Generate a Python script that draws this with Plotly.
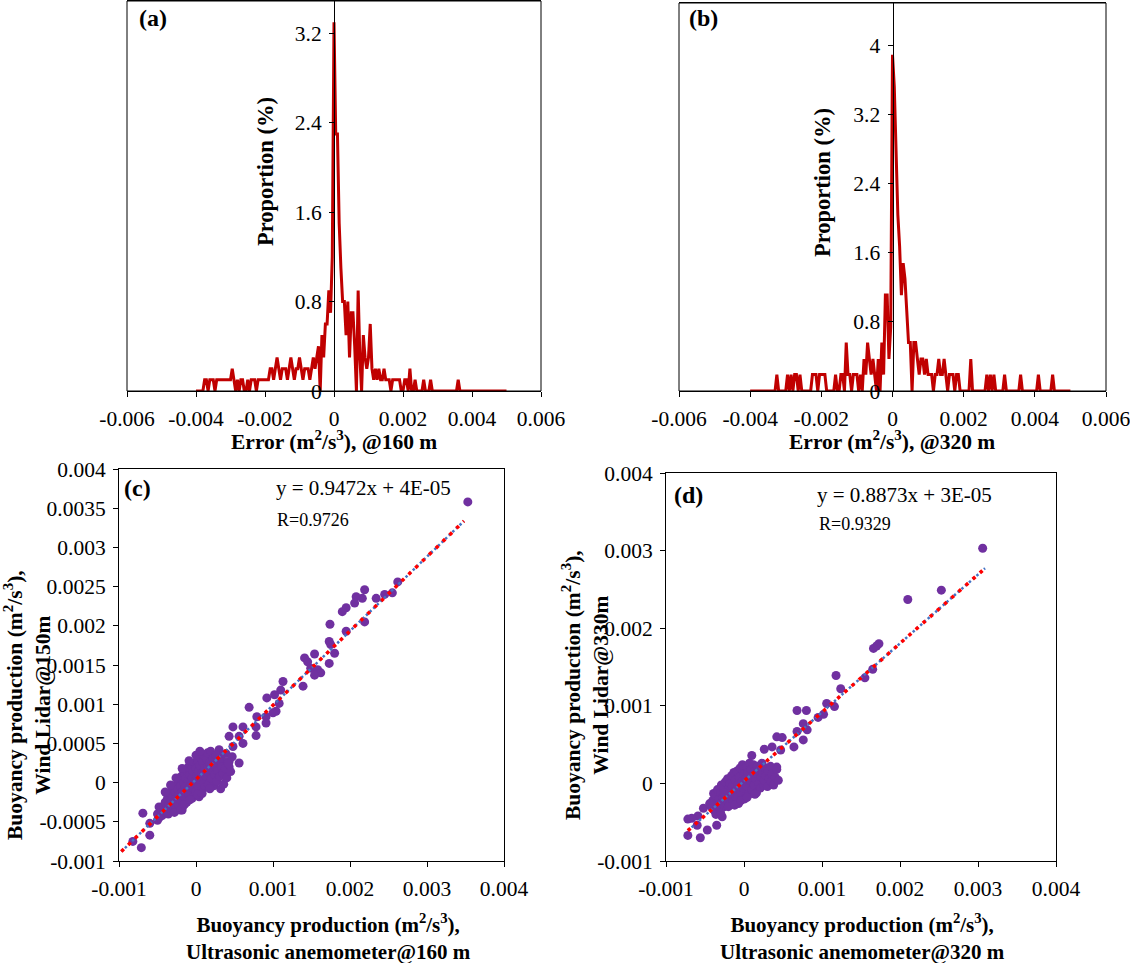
import plotly.graph_objects as go

# ---------------- data ----------------
# error bins of the histograms (bin centres)
BIN_START = -0.004
BIN_WIDTH = 0.00005
N_BINS = 181
err_bins = [round(BIN_START + BIN_WIDTH * i, 6) for i in range(N_BINS)]

# proportion (%) per bin, @160 m
prop_160 = [
    0, 0, 0, 0, 0,
    0.1, 0.1, 0, 0.1, 0.1,
    0.1, 0, 0.1, 0.1, 0.1,
    0.1, 0.1, 0.1, 0.1, 0.1,
    0.1, 0.2, 0.1, 0, 0.1,
    0, 0.1, 0.1, 0, 0,
    0.1, 0, 0.1, 0.1, 0.1,
    0, 0.1, 0.1, 0.1, 0.1,
    0.1, 0.1, 0.1, 0.2, 0.2,
    0.1, 0.2, 0.3, 0.2, 0.1,
    0.2, 0.2, 0.2, 0.1, 0.2,
    0.3, 0.2, 0.1, 0.2, 0.2,
    0.3, 0.2, 0.1, 0.2, 0.2,
    0.2, 0.1, 0.2, 0.3, 0.2,
    0.3, 0.4, 0, 0.5, 0.3,
    0.6, 0.6, 0.9, 0.7, 1.2,
    3.3, 2.3, 2.3, 1.5, 1.1,
    0.8, 0.8, 0.5, 0.8, 0.3,
    0.7, 0.7, 0.4, 0, 0.9,
    0.3, 0, 0.5, 0.3, 0.2,
    0.3, 0.6, 0.2, 0.1, 0.2,
    0.1, 0.2, 0.1, 0.1, 0.2,
    0.1, 0.1, 0.1, 0, 0.1,
    0.1, 0.1, 0.1, 0.1, 0,
    0, 0.1, 0.1, 0, 0.2,
    0, 0, 0.1, 0, 0,
    0, 0, 0.1, 0, 0,
    0, 0.1, 0, 0, 0,
    0, 0, 0, 0, 0,
    0, 0, 0, 0, 0,
    0, 0, 0.1, 0, 0,
    0, 0, 0, 0, 0,
    0, 0, 0, 0, 0,
    0, 0, 0, 0, 0,
    0, 0, 0, 0, 0,
    0, 0, 0, 0, 0,
    0,
]

# proportion (%) per bin, @320 m
prop_320 = [
    0, 0, 0, 0, 0,
    0, 0, 0, 0, 0,
    0, 0, 0, 0, 0,
    0.19, 0, 0, 0, 0,
    0, 0.19, 0, 0.19, 0,
    0.19, 0.19, 0, 0.19, 0,
    0, 0, 0, 0, 0,
    0.19, 0.19, 0.19, 0, 0.19,
    0.19, 0.19, 0.19, 0, 0,
    0, 0, 0, 0.19, 0,
    0, 0.19, 0.19, 0, 0.56,
    0.19, 0.19, 0, 0.19, 0.19,
    0.19, 0, 0.19, 0, 0.37,
    0.19, 0.56, 0.37, 0.19, 0.37,
    0.19, 0, 0.37, 0, 0.56,
    0.19, 1.11, 1.11, 0.37, 0.74,
    3.89, 3.52, 2.78, 2.04, 1.67,
    1.11, 1.48, 1.3, 0.93, 0.56,
    0.56, 0, 0.56, 0.56, 0.37,
    0.19, 0.37, 0.37, 0.19, 0.37,
    0.19, 0.19, 0.19, 0, 0.19,
    0.19, 0.37, 0.19, 0.19, 0.37,
    0.19, 0, 0.19, 0.19, 0.19,
    0, 0.19, 0.19, 0, 0,
    0, 0, 0, 0, 0.37,
    0, 0, 0, 0, 0,
    0, 0, 0, 0.19, 0,
    0.19, 0, 0.19, 0, 0,
    0, 0, 0, 0.19, 0,
    0, 0, 0, 0, 0,
    0, 0, 0.19, 0, 0,
    0, 0, 0, 0, 0,
    0, 0, 0.19, 0, 0,
    0, 0, 0, 0, 0,
    0.19, 0, 0, 0, 0,
    0, 0, 0, 0, 0,
    0,
]

# scatter data, in units of 1e-5 m2/s3
UNIT = 1e-5
sonic_160 = [
    353, 262, 255, 245, 234, 219, 216, 208, 206, 195, 190, 219, 195, 174, 173, 175, 180, 173,
    154, 141, 145, 149, 158, 162, 154, 139, 113, 110, 102, 92, 108, 104, 100, 69, 91, 91, 79,
    78, 78, 61, 48, 43, 56, 61, 48, 39, 43, 32, 26, 17, -69, -60, -60, -71, -82, -48, -50,
    -32, -18, 35, 47, 56, 43, 30,
    -50, -48, -45, -44, -42, -40, -40, -38, -37, -36, -35, -34, -33, -32, -31, -30, -30, -29,
    -28, -27, -26, -25, -25, -24, -23, -22, -21, -20, -20, -19, -18, -17, -16, -15, -15, -14,
    -13, -12, -12, -11, -10, -10, -9, -8, -7, -6, -5, -5, -4, -3, -2, -1, 0, 0, 1, 2, 3, 3,
    4, 5, 5, 6, 7, 8, 9, 10, 10, 11, 12, 13, 14, 15, 15, 16, 17, 18, 19, 20, 21, 22, 23, 24,
    25, 26, 27, 28, 30, 31, 32, 33, 35, 36, 38, 40, 42, 45, -28, -20, -15, -8, 2, 8, 18,
    -40, -33, -26, -18, -9, 0, 5,
]
lidar_150 = [
    358, 256, 242, 240, 235, 246, 235, 237, 229, 223, 218, 205, 193, 202, 180, 176, 165, 152,
    164, 159, 154, 146, 144, 140, 137, 123, 129, 118, 112, 108, 101, 91, 89, 96, 84, 76, 84,
    71, 60, 71, 71, 59, 59, 50, 46, 37, 27, 33, 10, 3, -39, -52, -67, -83, -75, -31, -48,
    -35, -35, 27, 33, 25, 20, 42,
    -40, -45, -35, -42, -30, -38, -25, -33, -20, -40, -28, -15, -35, -22, -10, -30, -18, -5,
    -25, -12, -32, -20, -2, -8, -28, -15, 3, -22, -5, 8, -12, -30, 0, -18, 12, -6,
    5, -25, 15, -10, 2, 20, -15, 10, -3, 22, -20, 6, 14, -8, 25, 2, -12, 18, 8, 28, -5, 14,
    -18, 4, 22, 32, -10, 12, 26, 0, 35, 18, -6, 8, 30, 20, 38, -2, 12, 25, 40, 5, 16, 30, -4, 10,
    22, 35, 2, 15, 28, 8, -8, 20, 12, -2, 18, 6, 24, 14, -38, -35, -28, -22, -15, -14, -8,
    -12, -3, 6, 18, 28, 35, 40,
]
sonic_320 = [
    306, 253, 210, 173, 170, 166, 165, 155, 118, 124, 106, 116, 102, 95, 68, 80, 76, 81, 68,
    76, 64, 42, 49, 36, 26, 42, 47, 10, -72, -72, -56, -47, -60, -59, -52, -35, -28, -39, -67,
    -42, -40, -38, -37, -35, -34, -32, -31, -30, -29, -28, -27, -26, -25, -24, -23, -22, -21,
    -20, -19, -18, -17, -16, -15, -14, -13, -12, -11, -10, -9, -8, -7, -6, -5, -4, -3, -2, -1,
    0, 1, 2, 3, 4, 5, 6, 7, 8, 9, 10, 11, 12, 13, 14, 15, 16, 17, 18, 19, 20, 21, 22, 23, 24,
    25, 26, 27, 28, 30, 31, 32, 34, 35, 36, 38, 40, 42, 44, -36, -30, -20, -12, -4, 4, 14,
    -44, -26,
]
lidar_330 = [
    303, 249, 237, 180, 177, 174, 147, 136, 139, 122, 103, 99, 89, 85, 94, 94, 77, 69, 67,
    56, 47, 60, 59, 47, 44, 21, 43, 36, -67, -46, -70, -60, -54, -42, -32, -54, -43, -13, -45,
    -30, -22, -35, -15, -28, -8, -20, -32, -12, -2, -25, -18, -5, -30, 2, -14, -22, 6,
    -8, -28, 0, -16, 10, -4, -24, 14, -10, 4, -18, 16, -2, -26, 8, 20, -12, 2, 24, -6,
    12, -20, 6, 22, -4, 14, -14, 26, 4, 18, -8, 10, 24, -2, 16, 6, -12, 22, 12, 0, 18, -6, 8, 26, 14,
    -2, 4, 20, 10, -4, 16, 6, 22, 2, 12, -2, 8, 18, 4, -40, -38, -30, -28, -22, -18, -14,
    -26, -12,
]

# linear fits shown in the panels
slope_160, intercept_160, r_160 = 0.9472, 4e-05, 0.9726
slope_320, intercept_320, r_320 = 0.8873, 3e-05, 0.9329
fit_span_160 = [-0.00097, 0.00348]
fit_span_320 = [-0.00072, 0.00309]

# tick labels
hist_xticks = [-0.006, -0.004, -0.002, 0, 0.002, 0.004, 0.006]
hist_xtext = ["-0.006", "-0.004", "-0.002", "0", "0.002", "0.004", "0.006"]
hist_yticks_a = [0, 0.8, 1.6, 2.4, 3.2]
hist_ytext_a = ["0", "0.8", "1.6", "2.4", "3.2"]
hist_yticks_b = [0, 0.8, 1.6, 2.4, 3.2, 4.0]
hist_ytext_b = ["0", "0.8", "1.6", "2.4", "3.2", "4"]
sc_xticks = [-0.001, 0, 0.001, 0.002, 0.003, 0.004]
sc_xtext = ["-0.001", "0", "0.001", "0.002", "0.003", "0.004"]
sc_yticks_c = [-0.001, -0.0005, 0, 0.0005, 0.001, 0.0015, 0.002, 0.0025, 0.003, 0.0035, 0.004]
sc_ytext_c = ["-0.001", "-0.0005", "0", "0.0005", "0.001", "0.0015", "0.002", "0.0025",
              "0.003", "0.0035", "0.004"]
sc_yticks_d = [-0.001, 0, 0.001, 0.002, 0.003, 0.004]
sc_ytext_d = ["-0.001", "0", "0.001", "0.002", "0.003", "0.004"]

# ---------------- styling ----------------
W, H = 1130, 963
FONT = "Liberation Serif"
TICK_FONT = dict(family=FONT, size=21.5, color="black")
HIST_RED = "#C00000"
PURPLE = "#7030A0"
BLUE = "#4472C4"
RED = "#FF0000"


def px(x):
    return x / W


def py(y):
    return 1 - y / H


dom = {
    "a": ([px(127), px(541)], [py(391), py(1)]),
    "b": ([px(679), px(1106)], [py(391), py(3)]),
    "c": ([px(119), px(504)], [py(861), py(469)]),
    "d": ([px(666), px(1056)], [py(861), py(473)]),
}

fig = go.Figure()

# histograms
fig.add_trace(go.Scatter(x=err_bins, y=prop_160, mode="lines",
                         line=dict(color=HIST_RED, width=3), xaxis="x", yaxis="y"))
fig.add_trace(go.Scatter(x=err_bins, y=prop_320, mode="lines",
                         line=dict(color=HIST_RED, width=3), xaxis="x2", yaxis="y2"))

# scatter panels
for xs, ys, slope, icpt, span, xa, ya in [
    (sonic_160, lidar_150, slope_160, intercept_160, fit_span_160, "x3", "y3"),
    (sonic_320, lidar_330, slope_320, intercept_320, fit_span_320, "x4", "y4"),
]:
    fig.add_trace(go.Scatter(x=[v * UNIT for v in xs], y=[v * UNIT for v in ys], mode="markers",
                             marker=dict(color=PURPLE, size=9, line=dict(width=0)),
                             xaxis=xa, yaxis=ya))
    fy = [slope * v + icpt for v in span]
    fig.add_trace(go.Scatter(x=span, y=fy, mode="lines",
                             line=dict(color=BLUE, width=2.5, dash="2.5px,2.5px"),
                             xaxis=xa, yaxis=ya))
    fig.add_trace(go.Scatter(x=span, y=fy, mode="lines",
                             line=dict(color=RED, width=3.5, dash="3.5px,6px"),
                             xaxis=xa, yaxis=ya))

common = dict(showgrid=False, zeroline=False, showline=True, linecolor="black", linewidth=1,
              ticks="outside", ticklen=5, tickcolor="black", tickwidth=1, tickfont=TICK_FONT,
              tickmode="array", automargin=False, ticklabeloverflow="allow",
              ticklabelstandoff=3)

layout = dict(
    width=W, height=H, margin=dict(l=0, r=0, t=0, b=0, autoexpand=False),
    paper_bgcolor="white", plot_bgcolor="white", showlegend=False,
    xaxis=dict(common, domain=dom["a"][0], range=[-0.006, 0.006], anchor="y", mirror=True,
               tickvals=hist_xticks, ticktext=hist_xtext),
    yaxis=dict(common, domain=dom["a"][1], range=[0, 3.49], anchor="free",
               position=(dom["a"][0][0] + dom["a"][0][1]) / 2,
               tickvals=hist_yticks_a, ticktext=hist_ytext_a),
    xaxis2=dict(common, domain=dom["b"][0], range=[-0.006, 0.006], anchor="y2", mirror=True,
                tickvals=hist_xticks, ticktext=hist_xtext),
    yaxis2=dict(common, domain=dom["b"][1], range=[0, 4.49], anchor="free",
                position=(dom["b"][0][0] + dom["b"][0][1]) / 2,
                tickvals=hist_yticks_b, ticktext=hist_ytext_b),
    xaxis3=dict(common, domain=dom["c"][0], range=[-0.001, 0.004], anchor="y3", mirror=True,
                tickvals=sc_xticks, ticktext=sc_xtext),
    yaxis3=dict(common, domain=dom["c"][1], range=[-0.001, 0.004], anchor="x3", mirror=True,
                tickvals=sc_yticks_c, ticktext=sc_ytext_c),
    xaxis4=dict(common, domain=dom["d"][0], range=[-0.001, 0.004], anchor="y4", mirror=True,
                tickvals=sc_xticks, ticktext=sc_xtext),
    yaxis4=dict(common, domain=dom["d"][1], range=[-0.001, 0.004], anchor="x4", mirror=True,
                tickvals=sc_yticks_d, ticktext=sc_ytext_d),
)
fig.update_layout(**layout)

# frames around the histogram panels
for xr, yr in [("x domain", "y domain"), ("x2 domain", "y2 domain")]:
    fig.add_shape(type="rect", xref=xr, yref=yr, x0=0, x1=1, y0=0, y1=1,
                  line=dict(color="black", width=1), layer="above")


def ann(text, x, y, size=21, angle=0, xanchor="center"):
    fig.add_annotation(text=text, x=px(x), y=py(y), xref="paper", yref="paper",
                       showarrow=False, xanchor=xanchor, yanchor="middle", textangle=angle,
                       font=dict(family=FONT, size=size, color="black"))


unit_txt = "(m<sup>2</sup>/s<sup>3</sup>)"
# panel letters
ann("<b>(a)</b>", 153, 18, size=24)
ann("<b>(b)</b>", 703, 18, size=24)
ann("<b>(c)</b>", 137, 488, size=24)
ann("<b>(d)</b>", 688, 495, size=24)

# histogram axis titles
ann(f"<b>Error {unit_txt}, @160 m</b>", 334, 440, size=21.5)
ann(f"<b>Error {unit_txt}, @320 m</b>", 892, 440, size=21.5)
ann("<b>Proportion (%)</b>", 266, 172, size=22.5, angle=-90)
ann("<b>Proportion (%)</b>", 822, 183, size=22.5, angle=-90)

# scatter axis titles
ann(f"<b>Buoyancy production {unit_txt},<br>Ultrasonic anemometer@160 m</b>", 328, 937)
ann(f"<b>Buoyancy production {unit_txt},<br>Ultrasonic anemometer@320 m</b>", 862, 937)
ann(f"<b>Buoyancy production {unit_txt},<br>Wind Lidar@150m</b>", 27, 705, size=21.5, angle=-90)
ann(f"<b>Buoyancy production {unit_txt},<br>Wind Lidar@330m</b>", 585, 685, size=21.5, angle=-90)

# fit equations
ann(f"y = {slope_160}x + 4E-05", 363, 488, size=21)
ann(f"R={r_160}", 313, 520, size=18)
ann(f"y = {slope_320}x + 3E-05", 904, 495, size=21)
ann(f"R={r_320}", 855, 524, size=18)

fig.write_html("out.html", config={"displayModeBar": False},
               post_script="document.body.style.margin='0';document.body.style.padding='0';")
